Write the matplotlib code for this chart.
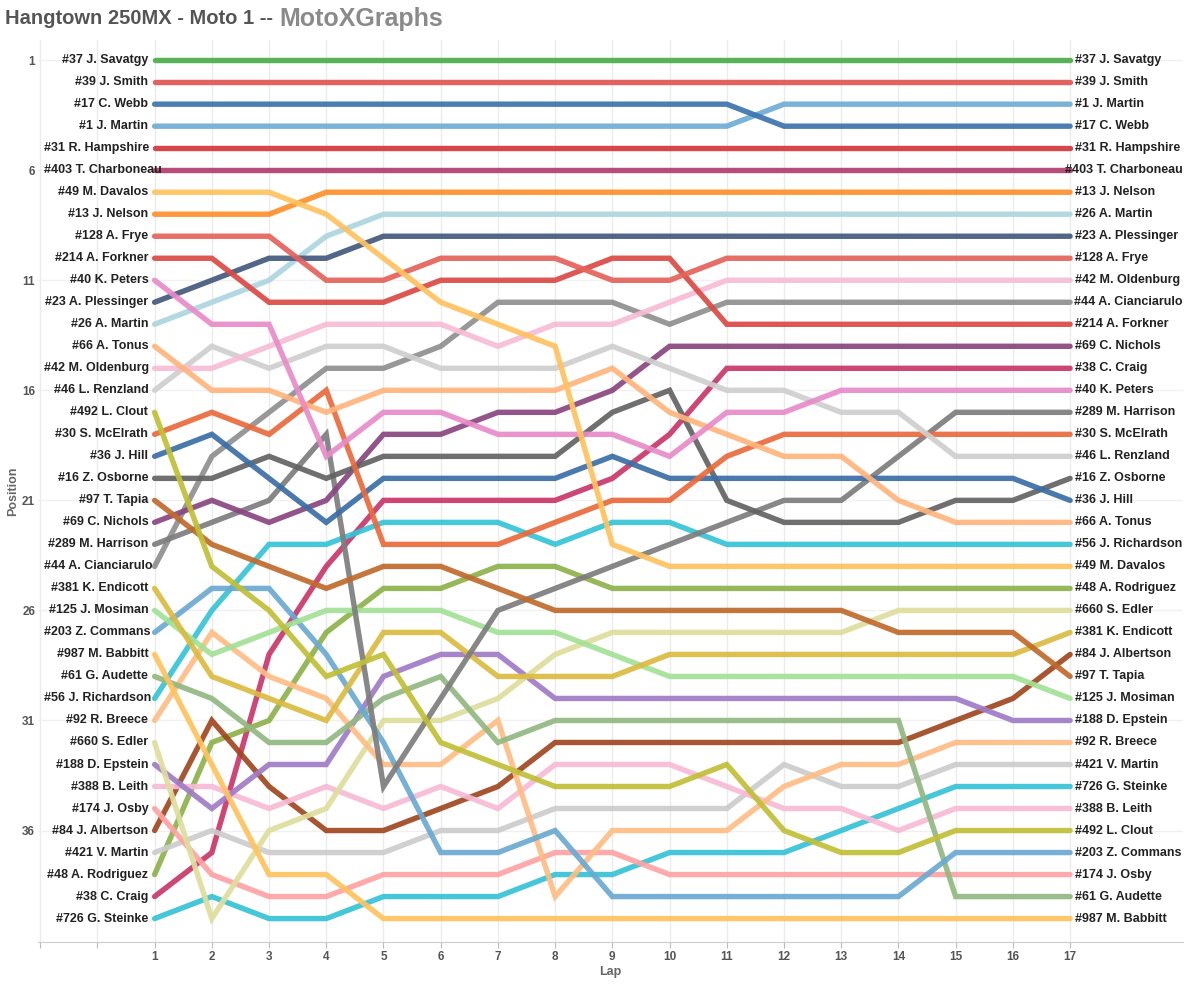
import matplotlib.pyplot as plt

# bump chart of the Hangtown 250MX moto 1 running order
laps = list(range(1, 18))

riders = [
    "#37 J. Savatgy", "#39 J. Smith", "#17 C. Webb", "#1 J. Martin",
    "#31 R. Hampshire", "#403 T. Charboneau", "#49 M. Davalos", "#13 J. Nelson",
    "#128 A. Frye", "#214 A. Forkner", "#40 K. Peters", "#23 A. Plessinger",
    "#26 A. Martin", "#66 A. Tonus", "#42 M. Oldenburg", "#46 L. Renzland",
    "#492 L. Clout", "#30 S. McElrath", "#36 J. Hill", "#16 Z. Osborne",
    "#97 T. Tapia", "#69 C. Nichols", "#289 M. Harrison", "#44 A. Cianciarulo",
    "#381 K. Endicott", "#125 J. Mosiman", "#203 Z. Commans", "#987 M. Babbitt",
    "#61 G. Audette", "#56 J. Richardson", "#92 R. Breece", "#660 S. Edler",
    "#188 D. Epstein", "#388 B. Leith", "#174 J. Osby", "#84 J. Albertson",
    "#421 V. Martin", "#48 A. Rodriguez", "#38 C. Craig", "#726 G. Steinke",
]

# position of each rider at laps 1..17 (same order as riders)
positions = [
    [1, 1, 1, 1, 1, 1, 1, 1, 1, 1, 1, 1, 1, 1, 1, 1, 1],
    [2, 2, 2, 2, 2, 2, 2, 2, 2, 2, 2, 2, 2, 2, 2, 2, 2],
    [3, 3, 3, 3, 3, 3, 3, 3, 3, 3, 3, 4, 4, 4, 4, 4, 4],
    [4, 4, 4, 4, 4, 4, 4, 4, 4, 4, 4, 3, 3, 3, 3, 3, 3],
    [5, 5, 5, 5, 5, 5, 5, 5, 5, 5, 5, 5, 5, 5, 5, 5, 5],
    [6, 6, 6, 6, 6, 6, 6, 6, 6, 6, 6, 6, 6, 6, 6, 6, 6],
    [7, 7, 7, 8, 10, 12, 13, 14, 23, 24, 24, 24, 24, 24, 24, 24, 24],
    [8, 8, 8, 7, 7, 7, 7, 7, 7, 7, 7, 7, 7, 7, 7, 7, 7],
    [9, 9, 9, 11, 11, 10, 10, 10, 11, 11, 10, 10, 10, 10, 10, 10, 10],
    [10, 10, 12, 12, 12, 11, 11, 11, 10, 10, 13, 13, 13, 13, 13, 13, 13],
    [11, 13, 13, 19, 17, 17, 18, 18, 18, 19, 17, 17, 16, 16, 16, 16, 16],
    [12, 11, 10, 10, 9, 9, 9, 9, 9, 9, 9, 9, 9, 9, 9, 9, 9],
    [13, 12, 11, 9, 8, 8, 8, 8, 8, 8, 8, 8, 8, 8, 8, 8, 8],
    [14, 16, 16, 17, 16, 16, 16, 16, 15, 17, 18, 19, 19, 21, 22, 22, 22],
    [15, 15, 14, 13, 13, 13, 14, 13, 13, 12, 11, 11, 11, 11, 11, 11, 11],
    [16, 14, 15, 14, 14, 15, 15, 15, 14, 15, 16, 16, 17, 17, 19, 19, 19],
    [17, 24, 26, 29, 28, 32, 33, 34, 34, 34, 33, 36, 37, 37, 36, 36, 36],
    [18, 17, 18, 16, 23, 23, 23, 22, 21, 21, 19, 18, 18, 18, 18, 18, 18],
    [19, 18, 20, 22, 20, 20, 20, 20, 19, 20, 20, 20, 20, 20, 20, 20, 21],
    [20, 20, 19, 20, 19, 19, 19, 19, 17, 16, 21, 22, 22, 22, 21, 21, 20],
    [21, 23, 24, 25, 24, 24, 25, 26, 26, 26, 26, 26, 26, 27, 27, 27, 29],
    [22, 21, 22, 21, 18, 18, 17, 17, 16, 14, 14, 14, 14, 14, 14, 14, 14],
    [23, 22, 21, 18, 34, 30, 26, 25, 24, 23, 22, 21, 21, 19, 17, 17, 17],
    [24, 19, 17, 15, 15, 14, 12, 12, 12, 13, 12, 12, 12, 12, 12, 12, 12],
    [25, 29, 30, 31, 27, 27, 29, 29, 29, 28, 28, 28, 28, 28, 28, 28, 27],
    [26, 28, 27, 26, 26, 26, 27, 27, 28, 29, 29, 29, 29, 29, 29, 29, 30],
    [27, 25, 25, 28, 32, 37, 37, 36, 39, 39, 39, 39, 39, 39, 37, 37, 37],
    [28, 33, 38, 38, 40, 40, 40, 40, 40, 40, 40, 40, 40, 40, 40, 40, 40],
    [29, 30, 32, 32, 30, 29, 32, 31, 31, 31, 31, 31, 31, 31, 39, 39, 39],
    [30, 26, 23, 23, 22, 22, 22, 23, 22, 22, 23, 23, 23, 23, 23, 23, 23],
    [31, 27, 29, 30, 33, 33, 31, 39, 36, 36, 36, 34, 33, 33, 32, 32, 32],
    [32, 40, 36, 35, 31, 31, 30, 28, 27, 27, 27, 27, 27, 26, 26, 26, 26],
    [33, 35, 33, 33, 29, 28, 28, 30, 30, 30, 30, 30, 30, 30, 30, 31, 31],
    [34, 34, 35, 34, 35, 34, 35, 33, 33, 33, 34, 35, 35, 36, 35, 35, 35],
    [35, 38, 39, 39, 38, 38, 38, 37, 37, 38, 38, 38, 38, 38, 38, 38, 38],
    [36, 31, 34, 36, 36, 35, 34, 32, 32, 32, 32, 32, 32, 32, 31, 30, 28],
    [37, 36, 37, 37, 37, 36, 36, 35, 35, 35, 35, 33, 34, 34, 33, 33, 33],
    [38, 32, 31, 27, 25, 25, 24, 24, 25, 25, 25, 25, 25, 25, 25, 25, 25],
    [39, 37, 28, 24, 21, 21, 21, 21, 20, 18, 15, 15, 15, 15, 15, 15, 15],
    [40, 39, 40, 40, 39, 39, 39, 38, 38, 37, 37, 37, 36, 35, 34, 34, 34],
]

colors = [
    "#4aad4a", "#e25550", "#3b74ae", "#6eadd5", "#d1373c", "#b03f6e",
    "#ffc25e", "#ff8f2a", "#e4625a", "#dc4a44", "#e88bc8", "#43597e",
    "#acd6e0", "#ffb47c", "#f7bcd6", "#cfcfcf", "#c0bf36", "#ea6a3c",
    "#3a6ea6", "#636363", "#c06a2c", "#8a4580", "#7d7d7d", "#8f8f8f",
    "#dbbb40", "#a2e196", "#6ba9d2", "#ffc35e", "#92b981", "#35c4d6",
    "#ffbd84", "#dfde9c", "#a07bc6", "#f8bad6", "#ffa3a3", "#a0471f",
    "#cccccc", "#8db24a", "#c9366a", "#36c3d6",
]

plt.rcParams['font.family'] = ['Liberation Sans', 'DejaVu Sans']

fig = plt.figure(figsize=(11.84, 9.84), dpi=100)
ax = fig.add_axes([0.032, 0.043, 0.967, 0.916])

for name, pos, c in zip(riders[::-1], positions[::-1], colors[::-1]):
    ax.plot(laps, pos, color=c, lw=3.9, alpha=0.92, solid_capstyle='round',
            solid_joinstyle='miter', zorder=2)

left_labels = []
right_labels = []
for name, pos in zip(riders, positions):
    left_labels.append(ax.text(laps[0] - 0.11, pos[0], name, ha='right', va='center',
                               fontsize=9, fontweight='bold', color='#222222', zorder=5))
    right_labels.append(ax.text(laps[-1] + 0.09, pos[-1], name, ha='left', va='center',
                                fontsize=9, fontweight='bold', color='#222222', zorder=5))

ax.set_xlim(-1.04, 18.97)
ax.set_ylim(41.05, 0.1)

ax.set_xticks(range(-1, 18))
ax.set_xticklabels([''] * 2 + [str(l) for l in laps])
ax.set_yticks([1, 6, 11, 16, 21, 26, 31, 36])
ax.tick_params(axis='x', length=4, color='#bbbbbb', labelsize=8.5, labelcolor='#555555', pad=3)
ax.tick_params(axis='y', length=0, labelsize=8.5, labelcolor='#555555', pad=2)
for lab in ax.get_xticklabels() + ax.get_yticklabels():
    lab.set_fontweight('bold')

ax.grid(axis='x', color='#ebebeb', lw=1)
ax.grid(axis='y', color='#f0f0f0', lw=1)
ax.set_axisbelow(True)
for s in ['top', 'right', 'left']:
    ax.spines[s].set_visible(False)
ax.spines['bottom'].set_color('#cccccc')

ax.set_xlabel("Lap", fontsize=9, fontweight='bold', color='#666666', labelpad=2)
ax.set_ylabel("Position", fontsize=9, fontweight='bold', color='#666666')
ax.yaxis.set_label_coords(-0.016, 0.5)

t1 = fig.text(0.004, 0.981, "Hangtown 250MX - Moto 1 --", fontsize=14.5, fontweight='bold',
              color='#555555', va='center', ha='left')

# keep end labels inside the pane, as the original does
fig.canvas.draw()
r = fig.canvas.get_renderer()
x_end = t1.get_window_extent(r).x1 + 7
fig.text(x_end / fig.bbox.width, 0.981, "MotoXGraphs", fontsize=18, fontweight='bold',
         color='#8a8a8a', va='center', ha='left')

inv = ax.transData.inverted()
for t in right_labels:
    bb = t.get_window_extent(r)
    over = bb.x1 - (fig.bbox.x1 - 1)
    if over > 0:
        x, y = t.get_position()
        xp = ax.transData.transform((x, y))[0] - over
        t.set_x(inv.transform((xp, 0))[0])
ax_left = ax.transData.transform((-1, 0))[0] + 4
for t in left_labels:
    bb = t.get_window_extent(r)
    over = ax_left - bb.x0
    if over > 0:
        x, y = t.get_position()
        xp = ax.transData.transform((x, y))[0] + over
        t.set_x(inv.transform((xp, 0))[0])

fig.savefig("out.png", dpi=100)
